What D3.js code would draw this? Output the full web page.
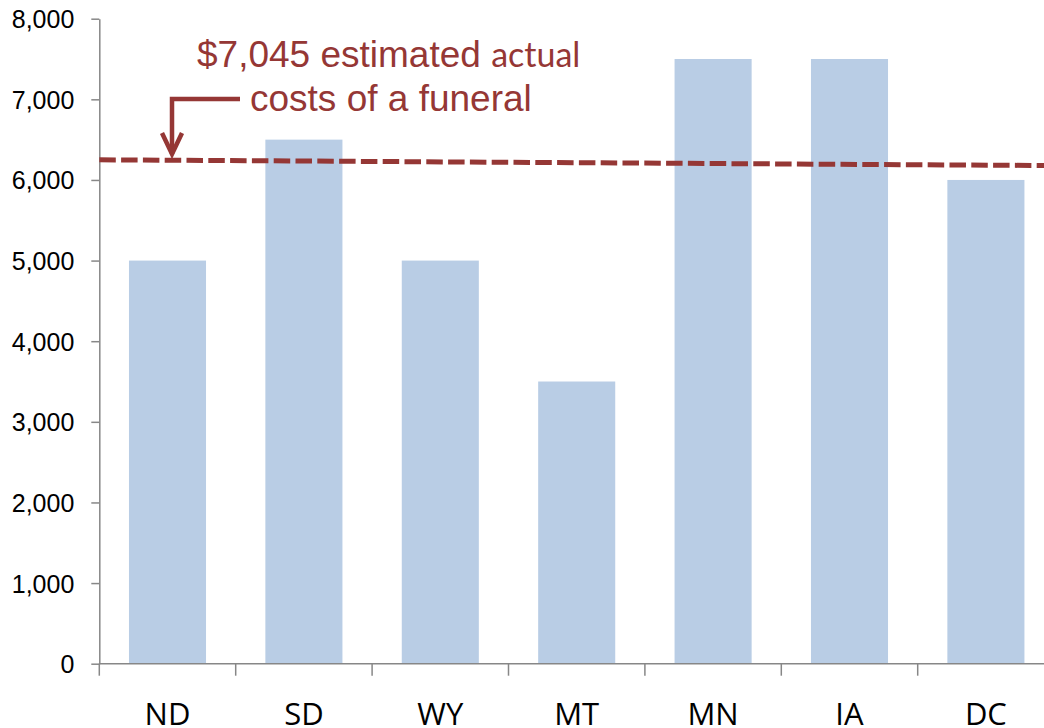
<!DOCTYPE html>
<html>
<head>
<meta charset="utf-8">
<script src="https://cdn.jsdelivr.net/npm/d3@7"></script>
<style>
  html, body { margin: 0; padding: 0; background: #fff; overflow: hidden; }
  svg { display: block; }
</style>
</head>
<body>
<script>
const states = ["ND", "SD", "WY", "MT", "MN", "IA", "DC"];
const costs = [5000, 6500, 5000, 3500, 7500, 7500, 6000];
const yTicks = [0, 1000, 2000, 3000, 4000, 5000, 6000, 7000, 8000];
// dashed reference line, value at left and right end of the plot
const refLine = [6250, 6178];
const noteLine1 = "$7,045 estimated";
const noteLine1b = "actual";
const noteLine2 = "costs of a funeral";

const width = 1044, height = 728;
const red = "#953735";
const axisColor = "#878787";

let svg = d3.select("body").append("svg")
    .attr("width", width)
    .attr("height", height);

let x = d3.scaleBand(states, [99.3, 1054.1])
    .paddingInner(0.435)
    .paddingOuter(0.2175);
let y = d3.scaleLinear([0, 8000], [663.7, 18.7]);

// bars
svg.append("g")
    .selectAll("rect")
    .data(costs)
    .join("rect")
      .attr("x", (d, i) => x(states[i]))
      .attr("width", x.bandwidth())
      .attr("y", d => y(d))
      .attr("height", d => y(0) - y(d))
      .attr("fill", "#b9cde5");

// y axis
let yAxis = svg.append("g")
    .attr("transform", `translate(${x.range()[0]},0)`)
    .call(d3.axisLeft(y).tickValues(yTicks).tickFormat(d3.format(",")).tickSize(8).tickSizeOuter(0));
yAxis.select(".domain").attr("stroke", axisColor).attr("stroke-width", 1.5);
yAxis.selectAll(".tick line").attr("stroke", axisColor).attr("stroke-width", 1.5);
yAxis.selectAll(".tick text")
    .attr("x", -25)
    .attr("dy", "0.36em")
    .attr("fill", "#000")
    .style("font-family", "'Liberation Sans', Arial, sans-serif")
    .style("font-size", "25px");

// x axis: ticks between categories
let xa = svg.append("g");
xa.append("line")
    .attr("x1", x.range()[0]).attr("x2", x.range()[1])
    .attr("y1", y(0)).attr("y2", y(0))
    .attr("stroke", axisColor).attr("stroke-width", 1.5);
xa.selectAll("line.tk")
    .data(d3.range(states.length + 1))
    .join("line")
      .attr("class", "tk")
      .attr("x1", i => x.range()[0] + i * x.step())
      .attr("x2", i => x.range()[0] + i * x.step())
      .attr("y1", y(0))
      .attr("y2", y(0) + 12)
      .attr("stroke", axisColor).attr("stroke-width", 1.5);
xa.selectAll("text")
    .data(states)
    .join("text")
      .attr("x", d => x(d) + x.bandwidth() / 2)
      .attr("y", 724.5)
      .attr("text-anchor", "middle")
      .style("font-family", "'Open Sans', sans-serif")
      .style("font-size", "31px")
      .text(d => d);

// dashed reference line
svg.append("line")
    .attr("x1", x.range()[0]).attr("x2", x.range()[1])
    .attr("y1", y(refLine[0])).attr("y2", y(refLine[1]))
    .attr("stroke", red)
    .attr("stroke-width", 5)
    .attr("stroke-dasharray", "16.5,5.3");

// annotation
let note = svg.append("g").attr("fill", red);
let t1 = note.append("text")
    .attr("x", 197)
    .attr("y", 66.7)
    .style("font-family", "'Liberation Sans', Arial, sans-serif")
    .style("font-size", "37px");
t1.append("tspan").text(noteLine1 + " ");
t1.append("tspan")
    .style("font-family", "Lato, sans-serif")
    .style("font-size", "34px")
    .text(noteLine1b);
note.append("text")
    .attr("x", 250)
    .attr("y", 110.7)
    .style("font-family", "'Liberation Sans', Arial, sans-serif")
    .style("font-size", "37px")
    .text(noteLine2);

note.append("path")
    .attr("d", "M240,99 H172 V154")
    .attr("fill", "none")
    .attr("stroke", red)
    .attr("stroke-width", 4.5);
note.append("path")
    .attr("d", "M162,133 L172,154 L182,133")
    .attr("fill", "none")
    .attr("stroke", red)
    .attr("stroke-width", 4.5)
    .attr("stroke-linejoin", "miter");
</script>
</body>
</html>
